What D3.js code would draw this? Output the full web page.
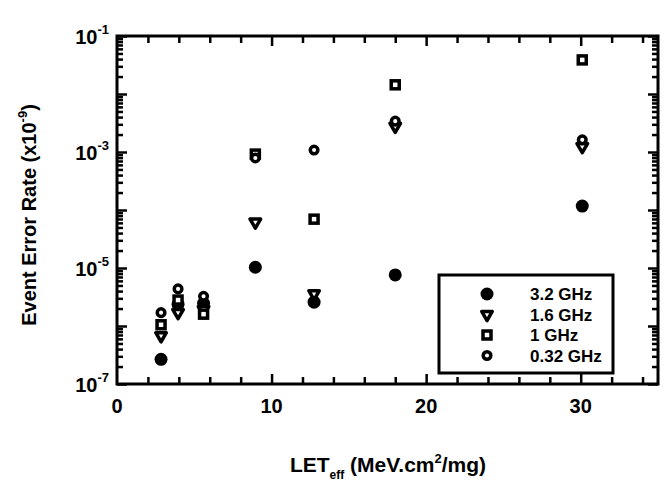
<!DOCTYPE html>
<html>
<head>
<meta charset="utf-8">
<script src="https://cdn.jsdelivr.net/npm/d3@7"></script>
<style>
  body { margin: 0; background: white; }
  svg { display: block; }
  text { font-family: "Liberation Sans", Arial, sans-serif; fill: black; }
</style>
</head>
<body>
<div id="chart"></div>
<script>
// LET values (MeV.cm2/mg) and error rates per clock frequency
let letValues = [2.85, 3.95, 5.6, 8.95, 12.75, 18.0, 30.1];
let rate32 = [2.66e-7, 2.36e-6, 2.47e-6, 1.03e-5, 2.58e-6, 7.6e-6, 1.17e-4];
let rate16 = [6.8e-7, 1.7e-6, 1.92e-6, 6.2e-5, 3.6e-6, 2.77e-3, 1.24e-3];
let rate10 = [1.05e-6, 2.8e-6, 1.6e-6, 9.2e-4, 6.95e-5, 1.44e-2, 3.87e-2];
let rate032 = [1.7e-6, 4.36e-6, 3.25e-6, 7.9e-4, 1.08e-3, 3.4e-3, 1.62e-3];

let seriesNames = ["3.2 GHz", "1.6 GHz", "1 GHz", "0.32 GHz"];
let xTickLabels = [0, 10, 20, 30];
let yLabelExps = [-1, -3, -5, -7];

let W = 666, H = 483;
let mLeft = 117, mRight = 658, mTop = 36, mBottom = 384;

let svg = d3.select("#chart").append("svg")
    .attr("width", W)
    .attr("height", H);

let x = d3.scaleLinear().domain([0, 35]).range([mLeft, mRight]);
let y = d3.scaleLog().domain([1e-7, 1e-1]).range([mBottom, mTop]);

// minor / major tick values
let xMinor = d3.range(0, 35, 2).filter(d => d % 10 !== 0);
let xMajor = [10, 20, 30];
let yMajor = d3.range(-7, 0).map(e => Math.pow(10, e));
let yMinor = [];
for (let e = -7; e < -1; e++) {
    for (let m = 2; m <= 9; m++) yMinor.push(m * Math.pow(10, e));
}

function styleAxis(g) {
    g.select(".domain").remove();
    g.selectAll("line").attr("stroke", "black").attr("stroke-width", 2.5);
    g.selectAll("text").remove();
}

// bottom + top ticks (inward)
svg.append("g").attr("transform", "translate(0," + mBottom + ")")
    .call(d3.axisBottom(x).tickValues(xMinor).tickSize(-7)).call(styleAxis);
svg.append("g").attr("transform", "translate(0," + mBottom + ")")
    .call(d3.axisBottom(x).tickValues(xMajor).tickSize(-10)).call(styleAxis);
svg.append("g").attr("transform", "translate(0," + mTop + ")")
    .call(d3.axisTop(x).tickValues(xMinor).tickSize(-7)).call(styleAxis);
svg.append("g").attr("transform", "translate(0," + mTop + ")")
    .call(d3.axisTop(x).tickValues(xMajor).tickSize(-10)).call(styleAxis);

// left + right ticks (inward)
svg.append("g").attr("transform", "translate(" + mLeft + ",0)")
    .call(d3.axisLeft(y).tickValues(yMajor).tickSize(-10)).call(styleAxis);
svg.append("g").attr("transform", "translate(" + mLeft + ",0)")
    .call(d3.axisLeft(y).tickValues(yMinor).tickSize(-6)).call(styleAxis);
svg.append("g").attr("transform", "translate(" + mRight + ",0)")
    .call(d3.axisRight(y).tickValues(yMajor).tickSize(-10)).call(styleAxis);
svg.append("g").attr("transform", "translate(" + mRight + ",0)")
    .call(d3.axisRight(y).tickValues(yMinor).tickSize(-6)).call(styleAxis);

// frame
svg.append("rect")
    .attr("x", mLeft).attr("y", mTop)
    .attr("width", mRight - mLeft).attr("height", mBottom - mTop)
    .attr("fill", "none").attr("stroke", "black").attr("stroke-width", 3);

// x tick labels
svg.selectAll(".xlab").data(xTickLabels).enter().append("text")
    .attr("x", d => x(d))
    .attr("y", mBottom + 29)
    .attr("text-anchor", "middle")
    .style("font-size", "20px")
    .style("font-weight", "bold")
    .text(d => d);

// y tick labels 10^n
let ylab = svg.selectAll(".ylab").data(yLabelExps).enter().append("text")
    .attr("x", mLeft - 8)
    .attr("y", d => y(Math.pow(10, d)) + 8)
    .attr("text-anchor", "end")
    .style("font-size", "20px")
    .style("font-weight", "bold");
ylab.append("tspan").text("10");
ylab.append("tspan").attr("dy", -10).style("font-size", "13px").text(d => d);

// axis titles
let xt = svg.append("text")
    .attr("x", 388).attr("y", 472)
    .attr("text-anchor", "middle")
    .style("font-size", "21px")
    .style("font-weight", "bold");
xt.append("tspan").text("LET");
xt.append("tspan").attr("dy", 7).style("font-size", "12px").text("eff");
xt.append("tspan").attr("dy", -7).text(" (MeV.cm");
xt.append("tspan").attr("dy", -9).style("font-size", "13px").text("2");
xt.append("tspan").attr("dy", 9).text("/mg)");

let yt = svg.append("text")
    .attr("transform", "translate(36,215) rotate(-90)")
    .attr("text-anchor", "middle")
    .style("font-size", "20px")
    .style("font-weight", "bold");
yt.append("tspan").text("Event Error Rate (x10");
yt.append("tspan").attr("dy", -9).style("font-size", "13px").text("-9");
yt.append("tspan").attr("dy", 9).text(")");

// marker drawing helpers
let tri = d3.symbol().type(d3.symbolTriangle).size(48);
function drawMarker(g, kind, cx, cy) {
    if (kind === 0) {
        g.append("circle").attr("cx", cx).attr("cy", cy).attr("r", 6.5).attr("fill", "black");
    } else if (kind === 1) {
        g.append("path").attr("d", tri())
            .attr("transform", "translate(" + cx + "," + cy + ") rotate(180)")
            .attr("fill", "white").attr("stroke", "black").attr("stroke-width", 3.5)
            .attr("stroke-linejoin", "round");
    } else if (kind === 2) {
        g.append("rect").attr("x", cx - 4).attr("y", cy - 4).attr("width", 8).attr("height", 8)
            .attr("fill", "white").attr("stroke", "black").attr("stroke-width", 3.5);
    } else {
        g.append("circle").attr("cx", cx).attr("cy", cy).attr("r", 3.8)
            .attr("fill", "white").attr("stroke", "black").attr("stroke-width", 3.5);
    }
}

let allSeries = [rate32, rate16, rate10, rate032];
let marks = svg.append("g");
allSeries.forEach(function(series, k) {
    series.forEach(function(v, i) {
        drawMarker(marks, k, x(letValues[i]), y(v));
    });
});

// legend
let legend = svg.append("g");
legend.append("rect")
    .attr("x", 439).attr("y", 275).attr("width", 174).attr("height", 98)
    .attr("fill", "white").attr("stroke", "black").attr("stroke-width", 3);
seriesNames.forEach(function(name, k) {
    let ly = 294 + k * 20.5;
    drawMarker(legend, k, 487, ly);
    legend.append("text")
        .attr("x", 530).attr("y", ly + 6)
        .style("font-size", "17px")
        .style("font-weight", "bold")
        .text(name);
});
</script>
</body>
</html>
